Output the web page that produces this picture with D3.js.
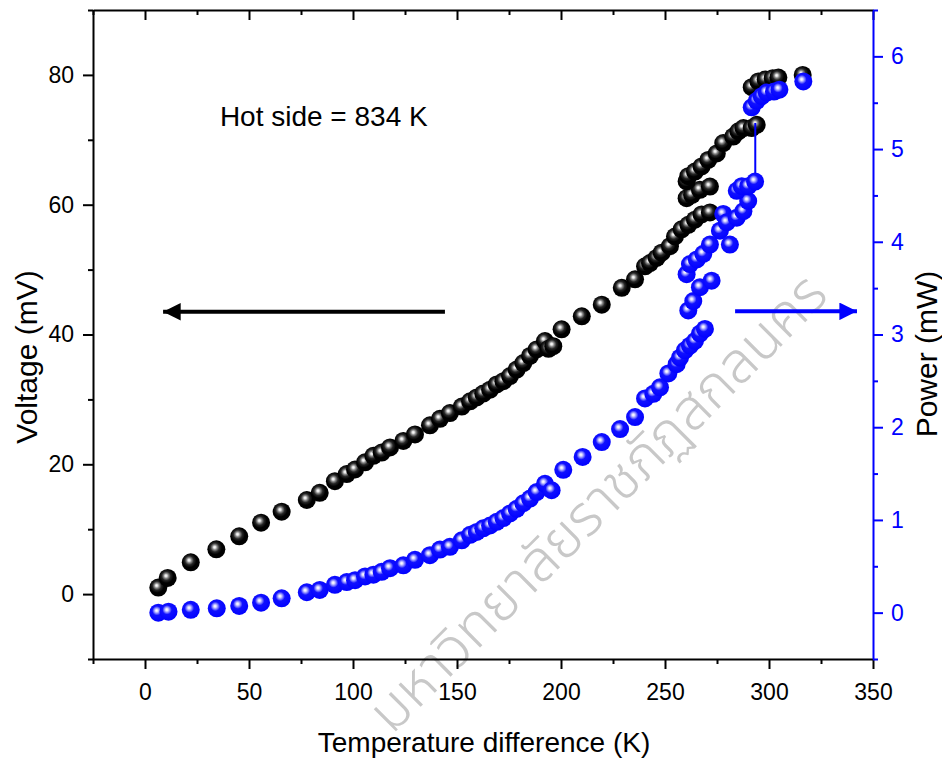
<!DOCTYPE html>
<html>
<head>
<meta charset="utf-8">
<script src="https://cdn.jsdelivr.net/npm/d3@7"></script>
<style>
  body { margin: 0; background: #fff; }
  svg { display: block; font-family: Arial, "Liberation Sans", sans-serif; }
</style>
</head>
<body>
<svg id="chart" width="942" height="761"></svg>
<script>
// Voltage (left axis), temperature difference in K
const tempVoltage = [6.4, 10.9, 22, 34.3, 45.3, 55.8, 65.7, 77.8, 84, 91.3, 97, 101, 105.8, 109.8, 113.8, 117.8,
  124.2, 129.8, 137, 141.8, 146.6, 152.3, 156.3, 159.5, 162.6, 165.9, 169.1, 172.3, 175.5, 178.7, 181.9, 185.1,
  188.3, 192.3, 194, 196.3, 200.3, 210, 219.6, 229.2, 235.6, 240.4, 242.8, 246, 248.4, 252.4, 254.8, 258, 261.2,
  264.4, 267.6, 271.6, 260.4, 263, 266.8, 271.6, 260.4, 261.2, 264.4, 267.6, 270.8, 274.9, 278, 282.8, 285.3,
  287.7, 291.7, 294.1, 291.7, 294.9, 298.4, 301.8, 304.5, 316.2];
const voltage = [1.0, 2.5, 4.9, 6.9, 8.9, 11.0, 12.7, 14.5, 15.6, 17.4, 18.5, 19.2, 20.3, 21.3, 21.8, 22.6,
  23.6, 24.6, 26.0, 27.0, 27.9, 28.9, 29.7, 30.3, 30.9, 31.5, 32.3, 32.8, 33.6, 34.6, 35.6, 36.7,
  37.7, 39.0, 37.8, 38.2, 40.8, 42.8, 44.6, 47.2, 48.5, 50.5, 51.0, 51.8, 52.6, 53.6, 55.1, 56.2, 56.9,
  57.7, 58.5, 58.8, 61.0, 61.5, 62.3, 62.8, 63.6, 64.4, 65.1, 65.9, 66.9, 67.9, 69.5, 70.5, 71.3,
  71.8, 71.8, 72.3, 78.1, 79.0, 79.3, 79.5, 79.6, 80.0];

// Power (right axis)
const tempPower = [6.4, 11.3, 22, 34.5, 45.3, 55.8, 65.7, 77.8, 84, 91.3, 97, 101, 105.8, 109.8, 113.8, 117.8,
  124.2, 129.8, 137, 141.8, 146.6, 152.3, 156.3, 159.5, 162.6, 165.9, 169.1, 172.3, 175.5, 178.7, 181.9, 185.1,
  188.3, 192.3, 195.5, 201.1, 210.4, 219.6, 228.4, 235.6, 240.4, 244.4, 247.6, 251.6, 255.6, 257.2, 259.6, 262,
  264.4, 266.8, 269.2, 261.2, 263.6, 266.8, 272.4, 260.4, 262, 265.3, 268.4, 271.6, 276.4, 281.2, 278, 279.7,
  284.5, 287.7, 290, 284.5, 286.9, 290, 293.3, 291.7, 294.1, 296.5, 298.9, 302.4, 305, 316.5];
const power = [0.0, 0.01, 0.03, 0.047, 0.072, 0.108, 0.155, 0.22, 0.245, 0.30, 0.33, 0.35, 0.39, 0.41, 0.44, 0.48,
  0.51, 0.57, 0.62, 0.68, 0.71, 0.78, 0.84, 0.87, 0.91, 0.94, 0.98, 1.02, 1.07, 1.12, 1.18, 1.23,
  1.30, 1.39, 1.32, 1.54, 1.68, 1.84, 1.98, 2.11, 2.31, 2.36, 2.43, 2.58, 2.68, 2.75, 2.83, 2.88,
  2.93, 3.01, 3.06, 3.26, 3.36, 3.51, 3.58, 3.65, 3.76, 3.81, 3.87, 3.97, 4.12, 3.97, 4.30, 4.21,
  4.26, 4.33, 4.44, 4.55, 4.60, 4.60, 4.65, 5.45, 5.52, 5.57, 5.61, 5.62, 5.64, 5.73];

const xTicks = [0, 50, 100, 150, 200, 250, 300, 350];
const xMinorTicks = [-25, 25, 75, 125, 175, 225, 275, 325];
const voltageTicks = [0, 20, 40, 60, 80];
const voltageMinorTicks = [-10, 10, 30, 50, 70, 90];
const powerTicks = [0, 1, 2, 3, 4, 5, 6];
const powerMinorTicks = [-0.5, 0.5, 1.5, 2.5, 3.5, 4.5, 5.5, 6.5];

const hotSideLabel = { t: 36, v: 72.1, text: 'Hot side = 834 K' };
const leftArrow = { from: 144.2, to: 8.7, v: 43.5 };
const rightArrow = { from: 283.7, to: 342.3, p: 3.25 };
const dropLine = { t: 293.4, v: 72.6, p: 4.65 };
const watermark = 'มหาวิทยาลัยราชภัฏสกลนคร';

const plot = { left: 93, right: 873, top: 10, bottom: 659 };
const blue = '#0000ff';

const svg = d3.select('#chart');

const x = d3.scaleLinear().domain([-25, 350]).range([plot.left, plot.right]);
const yV = d3.scaleLinear().domain([-10, 90]).range([plot.bottom, plot.top]);
const yP = d3.scaleLinear().domain([-0.5, 6.5]).range([plot.bottom, plot.top]);

// sphere-like marker fills
const defs = svg.append('defs');
function ballGradient(id, stops) {
  const g = defs.append('radialGradient').attr('id', id)
    .attr('cx', '0.45').attr('cy', '0.42').attr('r', '0.62')
    .attr('fx', '0.4').attr('fy', '0.38');
  stops.forEach(([o, c]) => g.append('stop').attr('offset', o).attr('stop-color', c));
}
ballGradient('ballBlack', [[0, '#ffffff'], [0.1, '#e4e4e4'], [0.22, '#8a8a8a'], [0.4, '#262626'], [0.62, '#000000'], [1, '#000000']]);
ballGradient('ballBlue', [[0, '#ffffff'], [0.1, '#e6e6ff'], [0.24, '#8c8cff'], [0.42, '#1010ff'], [1, '#0000ff']]);

const arrowHead = (id, color) => defs.append('marker').attr('id', id)
  .attr('viewBox', '0 0 10 10').attr('refX', 10).attr('refY', 5)
  .attr('markerWidth', 6).attr('markerHeight', 4.4).attr('markerUnits', 'strokeWidth')
  .attr('orient', 'auto')
  .append('path').attr('d', 'M0,0 L10,5 L0,10 Z').attr('fill', color);
arrowHead('headBlack', '#000');
arrowHead('headBlue', blue);

// watermark behind everything
svg.append('text')
  .attr('transform', 'translate(600,505) rotate(-45)')
  .attr('text-anchor', 'middle')
  .attr('dominant-baseline', 'middle')
  .attr('font-family', '"Noto Sans Thai", "Noto Sans", "DejaVu Sans", sans-serif')
  .attr('font-size', 57)
  .attr('font-weight', 300)
  .attr('fill', '#c8c8c8')
  .text(watermark);

// axes
function drawAxis(axisFn, scale, majors, minors, transform, color, size, showLabels, pad) {
  const g = svg.append('g').attr('transform', transform);
  g.call(axisFn(scale).tickValues(majors).tickSize(size).tickSizeOuter(0).tickPadding(pad)
    .tickFormat(showLabels ? d3.format('d') : ''));
  g.append('g').call(axisFn(scale).tickValues(minors).tickSize(size / 2).tickSizeOuter(0).tickFormat(''))
    .select('.domain').remove();
  g.selectAll('path, line').attr('stroke', color).attr('stroke-width', 2);
  g.selectAll('text').attr('fill', color).attr('font-size', 23)
    .attr('font-family', 'Arial, "Liberation Sans", sans-serif');
  return g;
}

drawAxis(d3.axisBottom, x, xTicks, xMinorTicks, `translate(0,${plot.bottom})`, '#000', 10, true, 15);
drawAxis(d3.axisTop, x, xTicks, xMinorTicks, `translate(0,${plot.top})`, '#000', -10, false, 0);
drawAxis(d3.axisLeft, yV, voltageTicks, voltageMinorTicks, `translate(${plot.left},0)`, '#000', 10, true, 9);
drawAxis(d3.axisRight, yP, powerTicks, powerMinorTicks, `translate(${plot.right},0)`, blue, 10, true, 8);

// axis titles
svg.append('text')
  .attr('x', (plot.left + plot.right) / 2 + 1).attr('y', 752)
  .attr('text-anchor', 'middle').attr('font-size', 28)
  .text('Temperature difference (K)');
svg.append('text')
  .attr('transform', 'translate(37,357) rotate(-90)')
  .attr('text-anchor', 'middle').attr('font-size', 30)
  .text('Voltage (mV)');
svg.append('text')
  .attr('transform', 'translate(937,354) rotate(-90)')
  .attr('text-anchor', 'middle').attr('font-size', 30)
  .text('Power (mW)');

// annotation
svg.append('text')
  .attr('x', x(hotSideLabel.t)).attr('y', yV(hotSideLabel.v))
  .attr('font-size', 28)
  .text(hotSideLabel.text);

svg.append('line')
  .attr('x1', x(leftArrow.from)).attr('x2', x(leftArrow.to))
  .attr('y1', yV(leftArrow.v)).attr('y2', yV(leftArrow.v))
  .attr('stroke', '#000').attr('stroke-width', 4)
  .attr('marker-end', 'url(#headBlack)');
svg.append('line')
  .attr('x1', x(rightArrow.from)).attr('x2', x(rightArrow.to))
  .attr('y1', yP(rightArrow.p)).attr('y2', yP(rightArrow.p))
  .attr('stroke', blue).attr('stroke-width', 4)
  .attr('marker-end', 'url(#headBlue)');

// data markers
const voltagePoints = tempVoltage.map((t, i) => ({ t, v: voltage[i] }));
const powerPoints = tempPower.map((t, i) => ({ t, v: power[i] }));

svg.append('g').selectAll('circle').data(voltagePoints).join('circle')
  .attr('cx', d => x(d.t)).attr('cy', d => yV(d.v)).attr('r', 9)
  .attr('fill', 'url(#ballBlack)');

svg.append('line')
  .attr('x1', x(dropLine.t)).attr('x2', x(dropLine.t))
  .attr('y1', yV(dropLine.v)).attr('y2', yP(dropLine.p))
  .attr('stroke', blue).attr('stroke-width', 2);

svg.append('g').selectAll('circle').data(powerPoints).join('circle')
  .attr('cx', d => x(d.t)).attr('cy', d => yP(d.v)).attr('r', 9)
  .attr('fill', 'url(#ballBlue)');
</script>
</body>
</html>
